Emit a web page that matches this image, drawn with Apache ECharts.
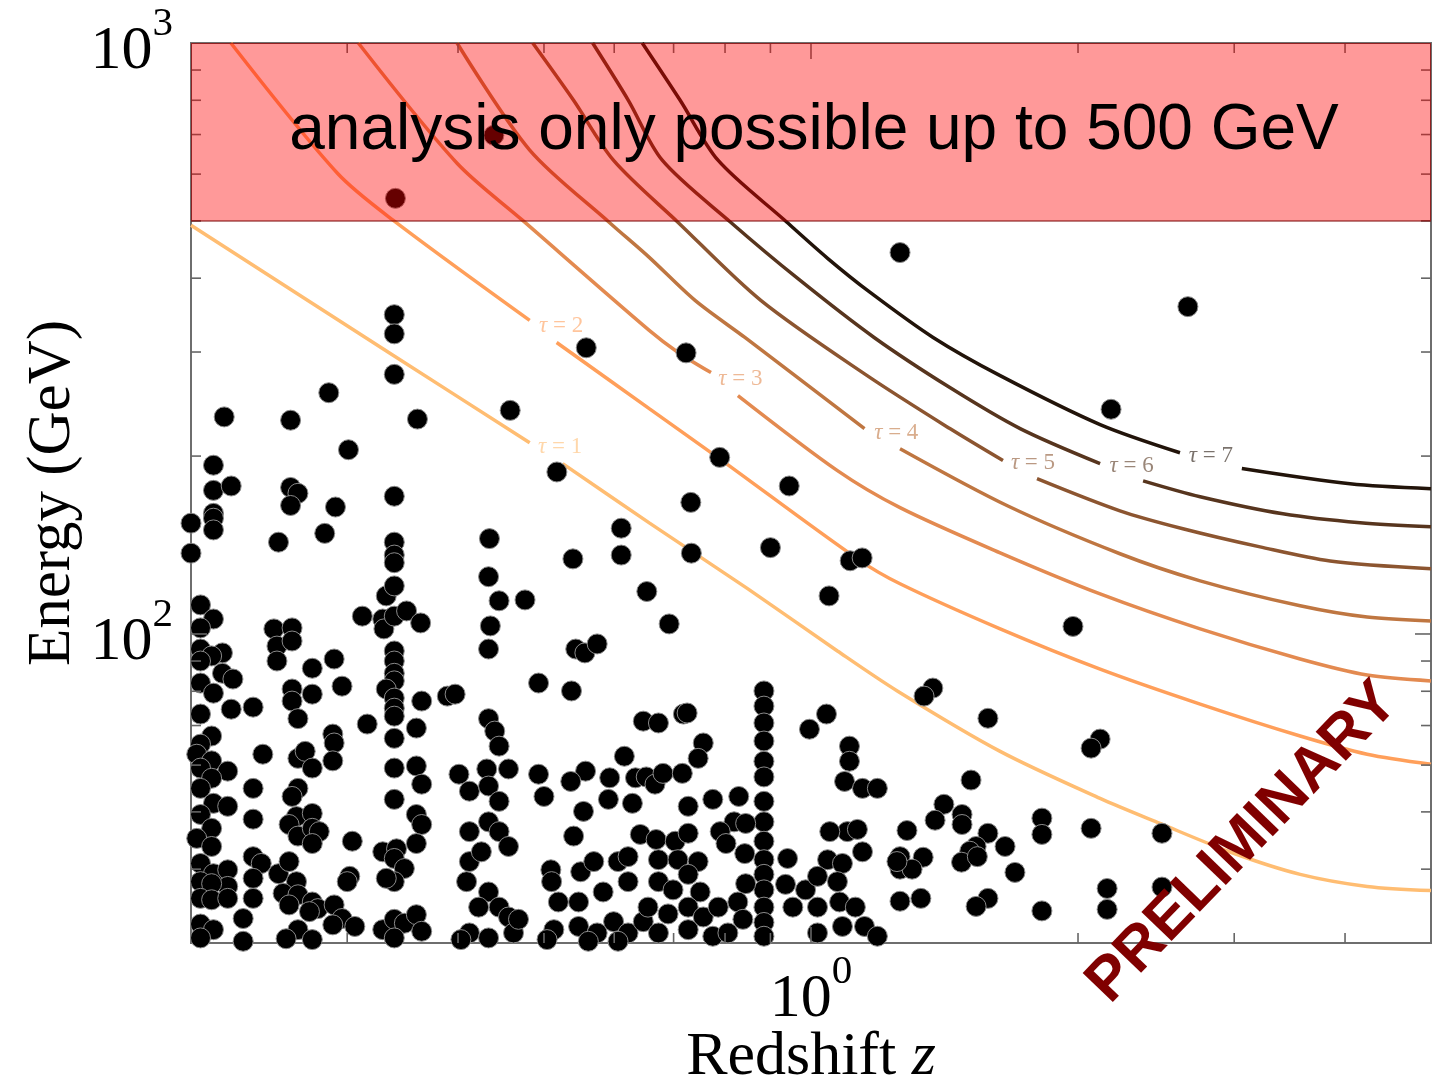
<!DOCTYPE html>
<html>
<head>
<meta charset="utf-8">
<script src="https://cdn.jsdelivr.net/npm/echarts@6/dist/echarts.min.js"></script>
<style>
  html, body { margin: 0; padding: 0; background: #ffffff; }
  #chart { width: 1438px; height: 1078px; }
</style>
</head>
<body>
<div id="chart"></div>
<script>
// Axis ranges
const Z_MIN = 0.2, Z_MAX = 5;
const E_MIN = 30, E_MAX = 1000;
// Upper energy limit of the analysis (GeV)
const E_CUT = 500;

// Tick positions
const xMinorTicks = [0.3, 0.4, 0.5, 0.6, 0.7, 0.8, 0.9, 2, 3, 4];
const xMajorTicks = [1];
const yMinorTicks = [40, 50, 60, 70, 80, 90, 200, 300, 400, 500, 600, 700, 800, 900];
const yMajorTicks = [100];

// Optical depth contours: [redshift, energy GeV]
const tauLevels = [1, 2, 3, 4, 5, 6, 7];
const tau1 = [[0.2,491.5],[0.3355,298.3],[0.4818,210.7],[0.5248,194.2],[0.6571,154.2],[0.849,119.2],[1.071,93.6],[1.251,80.1],[1.634,63.3],[2.118,52.7],[2.474,47.8],[2.99,42.6],[3.56,39.2],[4.236,37.4],[5.0,36.8]];
const tau2 = [[0.2218,1000],[0.2925,602],[0.3382,501],[0.4818,339.3],[0.5167,311.3],[0.6571,240.6],[0.7855,198.8],[1.128,134],[1.26,121.6],[1.634,102],[2.118,87.2],[2.746,76.1],[3.56,67.2],[4.236,62.6],[5.0,60.2]];
const tau3 = [[0.3088,1000],[0.399,626],[0.4731,501],[0.6571,326.4],[0.7083,299.5],[0.7714,276.9],[0.8272,253.2],[1.071,189],[1.26,163.6],[1.634,137.2],[2.118,116.9],[2.746,102],[3.56,90.7],[4.236,85.2],[5.0,83.3]];
const tau4 = [[0.399,1000],[0.4818,658.8],[0.5925,497],[0.6571,433.8],[0.7401,366.8],[0.8423,317.5],[1.149,222.6],[1.26,205.8],[1.665,164.8],[2.23,136.7],[2.746,123],[3.56,111.6],[4.236,106.8],[5.0,105.2]];
const tau5 = [[0.4856,1000],[0.5399,800],[0.5987,633.4],[0.7083,497],[0.8778,366.8],[1.157,273.6],[1.434,222.6],[1.646,196.5],[1.798,183.2],[2.23,161.6],[2.626,150.7],[3.208,140.4],[3.848,132.9],[5.0,128.9]];
const tau6 = [[0.5673,1000],[0.6224,800],[0.6796,633.4],[0.8123,497],[0.966,399.6],[1.178,317.5],[1.434,261.2],[1.721,222.6],[2.118,194.2],[2.368,181.6],[2.746,170.7],[3.404,159.7],[4.16,154.2],[5.0,151.8]];
const tau7 = [[0.6453,1000],[0.712,800],[0.7855,633.4],[0.934,501.2],[1.044,432.2],[1.166,378.4],[1.373,317.5],[1.634,273.6],[2.118,226.1],[2.606,202.6],[3.06,190.5],[4.052,179.5],[5.0,176.1]];
const tauCurves = [tau1, tau2, tau3, tau4, tau5, tau6, tau7];
// each contour is broken after this vertex to make room for its inline label
const tauGapAfter = [2, 3, 5, 6, 7, 8, 9];
const tauColors = ['#ffbd72', '#ff9f5a', '#e38a50', '#bf7641', '#8c5530', '#57351e', '#22140a'];
const tauLabelOffset = [[14, -6], [18, -6], [16, -5], [14, -6], [13, -7], [10, -6], [0, -5]];

// Detected photons: [redshift of source, energy GeV]
const photons = [
  [0.340,546],[0.439,698],[1.26,442],[2.66,358],[0.339,347],[0.339,322],[0.339,275],[0.558,305],[0.723,299],
  [0.458,239],[0.286,256],[0.259,230],[0.218,233],[0.360,231],[0.301,205],[0.517,188],[0.212,193],[0.212,175],
  [0.222,178],[0.212,160],[0.212,157],[0.212,150],[0.259,177],[0.264,173],[0.259,165],[0.291,164],[0.339,171],
  [0.251,143],[0.283,148],[0.339,143],[0.339,136],[0.434,145],[0.539,134],[0.611,151],[0.611,136],[0.200,154],
  [0.200,137],[0.789,199],[0.945,178],[0.732,167],[0.733,137],[0.900,140],[1.107,133],[1.142,134.5],[0.653,118],
  [1.048,116],[0.692,104],[1.974,103],[2.179,240],
  [1.372,81],[1.341,78.5],[1.583,72],[2.118,66.4],[2.069,64.1],[1.515,56.6],[1.412,51.5],[1.38,48.4],[1.48,49.5],
  [1.48,47.6],[1.283,46.5],[1.583,46],[1.821,48.8],[1.821,45.8],[2.069,46.9],[2.487,46],[1.655,43.7],[1.535,43.7],
  [1.51,42.9],[1.478,41.1],[1.54,42],[1.338,41.9],[1.26,42],[1.26,40],[1.30,40],[1.698,39.5],[2.157,37.1],
  [2.487,37.3],[1.33,35.7],[1.583,35.7],[1.535,34.6],[1.821,34],[2.157,34.2],[1.26,35.3],
  [0.205,112],[0.212,106],[0.205,102.4],[0.205,94.3],[0.217,92.9],[0.211,91.8],[0.205,90],[0.217,85.8],[0.223,83.9],
  [0.205,82.6],[0.212,79.4],[0.205,73.2],[0.222,74.6],[0.235,75.2],[0.211,67.2],[0.205,65.1],[0.203,62.6],[0.211,61.0],
  [0.205,59.3],[0.220,58.6],[0.211,57.0],[0.205,54.8],[0.241,62.6],[0.235,54.8],[0.212,51.7],[0.220,51.1],[0.205,49.5],
  [0.211,46.9],[0.203,45.1],[0.211,43.7],[0.235,48.6],[0.205,40.9],[0.212,39.3],[0.220,39.9],[0.205,38.1],[0.220,37.4],
  [0.211,37.8],[0.205,35.7],[0.211,35.5],[0.220,35.7],[0.235,42.0],[0.240,40.9],[0.235,38.6],[0.235,35.7],[0.229,33.0],
  [0.205,32.3],[0.212,31.6],[0.205,30.6],[0.229,30.2],[0.248,102],[0.260,102.4],[0.250,95.4],[0.260,97.3],[0.250,90.0],
  [0.274,87.5],[0.290,90.7],[0.260,80.7],[0.274,79.1],[0.260,77.0],[0.264,71.9],[0.296,81.6],[0.312,107.2],[0.329,106],
  [0.330,102],[0.339,107.2],[0.350,109.4],[0.363,104.4],[0.332,116],[0.339,120.6],[0.339,132],[0.339,93.6],[0.339,90],
  [0.339,85.8],[0.339,83.3],[0.332,80.7],[0.339,77.9],[0.339,74.9],[0.339,72.6],[0.316,70.4],[0.339,66.6],[0.359,69.3],
  [0.364,77.0],[0.389,78.5],[0.339,59.3],[0.359,59.8],[0.364,55.7],[0.339,52.5],[0.359,49.5],[0.364,47.6],[0.359,44.2],
  [0.264,61.6],[0.269,63.3],[0.274,59.3],[0.289,67.7],[0.290,65.4],[0.289,61.0],[0.264,54.8],[0.260,53.1],[0.263,49.1],
  [0.274,49.7],[0.258,47.6],[0.264,45.5],[0.274,46.9],[0.279,46.3],[0.274,44.2],[0.304,44.6],[0.329,42.8],[0.341,43.3],
  [0.339,41.7],[0.348,40.1],[0.339,38.1],[0.332,38.6],[0.302,38.9],[0.300,38.1],[0.251,39.3],[0.258,41.2],[0.263,38.1],
  [0.254,36.4],[0.264,36.2],[0.258,34.8],[0.274,35.2],[0.278,34.3],[0.272,33.9],[0.290,34.8],[0.296,33.0],[0.306,32.0],
  [0.289,32.2],[0.264,31.6],[0.256,30.5],[0.274,30.4],[0.329,31.6],[0.339,32.9],[0.348,32.4],[0.359,33.5],[0.364,31.4],
  [0.339,30.6],[0.199,128],[0.199,97],[0.199,71],[0.199,56],[0.199,48],[0.199,39],[0.199,34],
  [0.397,79.1],[0.433,125],[0.435,103.2],[0.433,94.3],[0.445,113.8],[0.476,114.2],[0.433,71.9],[0.440,68.5],[0.445,64.6],
  [0.493,82.6],[0.401,57.9],[0.431,59.1],[0.456,59.1],[0.412,54.2],[0.433,55.3],[0.445,52.1],[0.493,57.9],[0.500,53.1],
  [0.433,48.1],[0.412,46.3],[0.445,46.3],[0.412,41.2],[0.425,42.8],[0.456,43.7],[0.409,38.1],[0.433,36.6],[0.422,34.5],
  [0.445,34.5],[0.456,33.2],[0.412,31.2],[0.403,30.4],[0.433,30.6],[0.462,31.2],[0.468,32.9],
  [0.537,80.1],[0.543,94.3],[0.556,92.9],[0.574,96.2],[0.557,58.6],[0.536,56.3],[0.554,50.1],[0.593,57.1],[0.616,62.1],
  [0.634,57.1],[0.591,52.5],[0.629,51.7],[0.540,45.5],[0.509,39.9],[0.510,38.1],[0.550,39.6],[0.569,41.2],[0.606,41.2],
  [0.622,42.0],[0.519,35.2],[0.547,35.2],[0.583,36.6],[0.622,38.1],[0.513,31.6],[0.547,32.0],[0.574,31.2],[0.599,32.6],
  [0.622,31.2],[0.647,32.6],[0.504,30.4],[0.561,30.2],[0.606,30.2],
  [0.647,71.2],[0.673,70.7],[0.652,57.3],[0.667,55.7],[0.681,58.1],[0.642,45.8],[0.669,44.9],[0.703,44.6],[0.727,46.0],
  [0.718,73.2],[0.725,73.5],[0.756,65.4],[0.746,61.6],[0.716,58.1],[0.727,51.1],[0.775,52.5],[0.673,41.5],[0.708,41.5],
  [0.746,41.2],[0.727,39.2],[0.673,38.1],[0.699,36.9],[0.750,36.6],[0.655,34.5],[0.690,33.6],[0.727,34.5],[0.756,33.2],
  [0.786,34.5],[0.673,31.2],[0.727,31.6],[0.775,30.8],
  [0.885,80.1],[0.885,75.5],[0.885,70.7],[0.885,65.9],[0.885,60.9],[0.885,57.3],[0.885,52.1],[0.885,48.1],[0.885,44.6],
  [0.885,41.5],[0.885,39.2],[0.885,36.9],[0.885,34.5],[0.885,32.5],[0.885,30.8],
  [0.829,53.1],[0.819,48.1],[0.844,47.8],[0.790,46.3],[0.802,44.2],[0.842,42.5],[0.844,37.8],[0.827,35.2],[0.838,32.9],
  [0.806,31.2],[0.941,41.7],[0.936,37.7],[0.954,34.5],[0.986,36.9],[1.041,73.2],[0.996,69.0],[1.105,64.6],[1.105,60.9],
  [1.091,56.3],[1.143,54.8],[1.188,54.8],[1.099,46.3],[1.050,46.3],[1.128,46.7],[1.044,41.5],[1.085,40.9],[1.143,42.8],
  [1.017,38.9],[1.071,38.1],[1.017,34.5],[1.077,35.2],[1.122,34.5],[1.085,32.0],[1.149,32.0],[1.188,30.8],[1.017,31.2],
  [1.250,41.2]
];

const SERIF = '"Liberation Serif", "DejaVu Serif", serif';
const SANS = '"Liberation Sans", Arial, sans-serif';
const tickStyle = { stroke: '#666666', lineWidth: 1.6 };

function powerLabel(v) {
  const p = Math.log10(v);
  const r = Math.round(p);
  if (Math.abs(p - r) < 1e-6) return '{b|10}{s|' + r + '}';
  return '';
}

const labelRich = {
  b: { fontFamily: SERIF, fontSize: 62, color: '#000', verticalAlign: 'bottom', lineHeight: 66 },
  s: { fontFamily: SERIF, fontSize: 41, color: '#000', verticalAlign: 'bottom', padding: [0, 0, 38, 0], lineHeight: 44 }
};

// Inward tick marks mirrored on both sides of the frame
function xTickSeries(values, len) {
  return {
    type: 'custom', coordinateSystem: 'cartesian2d', silent: true, clip: false, z: 5,
    data: values.map(v => [v, E_MIN]),
    renderItem(params, api) {
      const v = api.value(0);
      const a = api.coord([v, E_MIN]);
      const b = api.coord([v, E_MAX]);
      return { type: 'group', children: [
        { type: 'line', shape: { x1: a[0], y1: a[1], x2: a[0], y2: a[1] - len }, style: tickStyle },
        { type: 'line', shape: { x1: b[0], y1: b[1], x2: b[0], y2: b[1] + len }, style: tickStyle }
      ] };
    }
  };
}
function yTickSeries(values, len) {
  return {
    type: 'custom', coordinateSystem: 'cartesian2d', silent: true, clip: false, z: 5,
    data: values.map(v => [Z_MIN, v]),
    renderItem(params, api) {
      const v = api.value(1);
      const a = api.coord([Z_MIN, v]);
      const b = api.coord([Z_MAX, v]);
      return { type: 'group', children: [
        { type: 'line', shape: { x1: a[0], y1: a[1], x2: a[0] + len, y2: a[1] }, style: tickStyle },
        { type: 'line', shape: { x1: b[0], y1: b[1], x2: b[0] - len, y2: b[1] }, style: tickStyle }
      ] };
    }
  };
}

// Each contour is drawn as two pieces, leaving an inline gap for its label
const contourSeries = [];
tauCurves.forEach((curve, i) => {
  const k = tauGapAfter[i];
  [curve.slice(0, k + 1), curve.slice(k + 1)].forEach(part => {
    contourSeries.push({
      type: 'line', data: part, z: 2,
      showSymbol: false, symbol: 'none', smooth: 0.3, silent: true,
      lineStyle: { color: tauColors[i], width: 3.5 }
    });
  });
});

// Label anchors: middle of each gap (geometric mean on log axes)
function gapMiddle(curve, k) {
  const a = curve[k], b = curve[k + 1];
  return [Math.sqrt(a[0] * b[0]), Math.sqrt(a[1] * b[1])];
}

const contourLabelSeries = {
  type: 'scatter', z: 3, silent: true, symbolSize: 0,
  itemStyle: { color: 'rgba(0,0,0,0)', opacity: 1 },
  data: tauCurves.map((curve, i) => {
    const c = echarts.color.modifyAlpha(tauColors[i], 0.6);
    return {
      value: gapMiddle(curve, tauGapAfter[i]),
      label: {
        show: true, position: 'inside', offset: tauLabelOffset[i],
        formatter: '{t|τ}{e| = ' + tauLevels[i] + '}',
        rich: {
          t: { fontFamily: SERIF, fontStyle: 'italic', fontSize: 23, color: c },
          e: { fontFamily: SERIF, fontSize: 23, color: c }
        }
      }
    };
  })
};

const photonSeries = {
  type: 'scatter', data: photons, z: 4, clip: true, silent: true,
  symbol: 'circle', symbolSize: 20,
  itemStyle: { color: '#000000', borderColor: '#8a8a8a', borderWidth: 1, opacity: 1 }
};

const bandSeries = {
  type: 'custom', z: 10, silent: true, clip: true,
  data: [[Z_MIN, E_CUT, Z_MAX, E_MAX]],
  encode: { x: [0, 2], y: [1, 3] },
  renderItem(params, api) {
    const p0 = api.coord([api.value(0), api.value(1)]);
    const p1 = api.coord([api.value(2), api.value(3)]);
    return {
      type: 'rect',
      shape: { x: p0[0], y: p1[1], width: p1[0] - p0[0], height: p0[1] - p1[1] },
      style: { fill: 'rgba(255,0,0,0.4)', stroke: 'rgba(120,0,0,0.5)', lineWidth: 2 }
    };
  }
};

const chart = echarts.init(document.getElementById('chart'), null, { renderer: 'canvas' });
chart.setOption({
  backgroundColor: '#ffffff',
  animation: false,
  grid: {
    left: 191, right: 7, top: 43, bottom: 135, outerBoundsMode: 'none', containLabel: false,
    show: true, borderColor: '#6e6e6e', borderWidth: 2, backgroundColor: 'transparent'
  },
  xAxis: {
    type: 'log', logBase: 10, min: Z_MIN, max: Z_MAX,
    axisLine: { show: false }, axisTick: { show: false }, splitLine: { show: false },
    axisLabel: { formatter: powerLabel, margin: 22, rich: labelRich, showMinLabel: false, showMaxLabel: false },
    name: 'Redshift {i|z}', nameLocation: 'middle', nameGap: 84, nameMoveOverlap: false,
    nameTextStyle: {
      fontFamily: SERIF, fontSize: 62, color: '#000',
      rich: { i: { fontFamily: SERIF, fontStyle: 'italic', fontSize: 62, color: '#000' } }
    }
  },
  yAxis: {
    type: 'log', logBase: 10, min: E_MIN, max: E_MAX,
    axisLine: { show: false }, axisTick: { show: false }, splitLine: { show: false },
    axisLabel: { formatter: powerLabel, margin: 18, rich: labelRich, showMinLabel: false, padding: [14, 0, 0, 0] },
    name: 'Energy (GeV)', nameLocation: 'middle', nameGap: 108, nameMoveOverlap: false,
    nameTextStyle: { fontFamily: SERIF, fontSize: 61, color: '#000' }
  },
  series: [
    ...contourSeries,
    contourLabelSeries,
    photonSeries,
    xTickSeries(xMinorTicks, 10),
    xTickSeries(xMajorTicks, 16),
    yTickSeries(yMinorTicks, 10),
    yTickSeries(yMajorTicks, 16),
    bandSeries
  ],
  graphic: [
    {
      type: 'text', z: 20, silent: true,
      x: 814, y: 131,
      style: {
        text: 'analysis only possible up to 500 GeV',
        font: '64px ' + SANS, fill: '#000000',
        textAlign: 'center', textVerticalAlign: 'middle'
      }
    },
    {
      type: 'text', z: 20, silent: true,
      x: 1243, y: 843, rotation: 46 * Math.PI / 180,
      style: {
        text: 'PRELIMINARY',
        font: 'bold 61px ' + SANS, fill: '#800000',
        textAlign: 'center', textVerticalAlign: 'middle',
        shadowColor: '#000000', shadowOffsetX: 3, shadowOffsetY: 3, shadowBlur: 0
      }
    }
  ]
});
</script>
</body>
</html>
